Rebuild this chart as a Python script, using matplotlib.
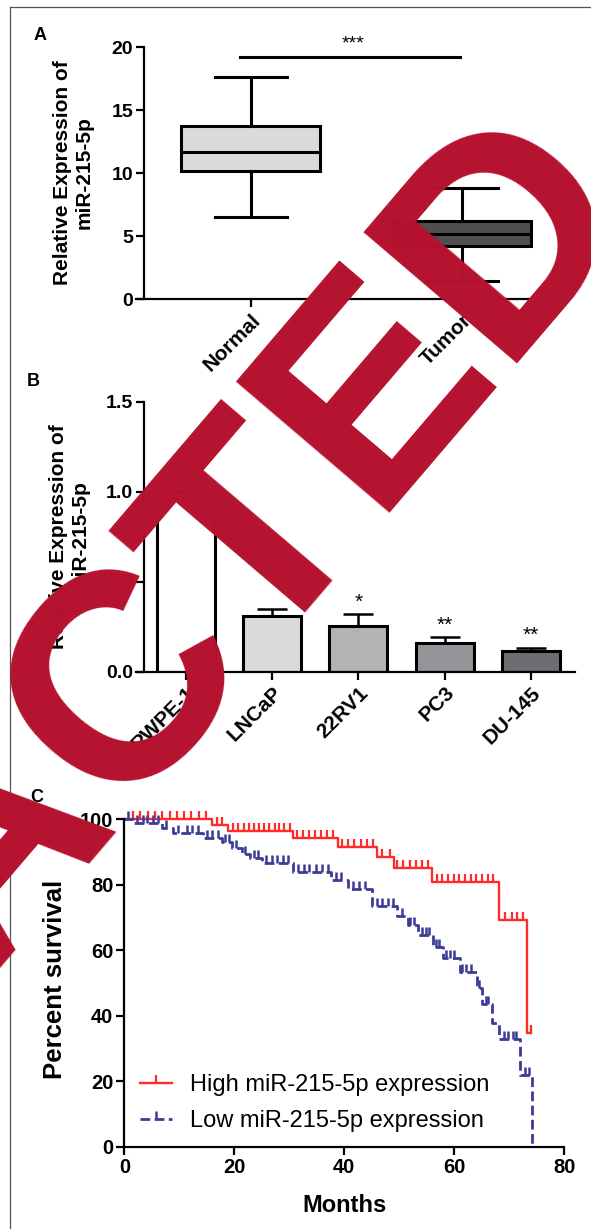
import matplotlib
matplotlib.use('Agg')
import numpy as np
import matplotlib.pyplot as plt
from matplotlib.path import Path
from matplotlib.lines import Line2D

plt.rcParams['font.family'] = ['Liberation Sans', 'DejaVu Sans']
plt.rcParams['font.weight'] = 'bold'

W, H = 591, 1229

# ---- panel A: box plot ----
groups_a = ['Normal', 'Tumor']
box_q1 = [10.2, 4.2]
box_med = [11.7, 5.15]
box_q3 = [13.75, 6.2]
whisk_lo = [6.5, 1.5]
whisk_hi = [17.6, 8.8]
box_colors = ['#d9dbdb', '#4f4f4f']

# ---- panel B: bars ----
cells = ['RWPE-1', 'LNCaP', '22RV1', 'PC3', 'DU-145']
rel_expr = [1.0, 0.31, 0.255, 0.163, 0.117]
expr_err = [0.0, 0.04, 0.065, 0.03, 0.018]
stars_b = ['', '', '*', '**', '**']
bar_colors = ['white', '#d9dbdb', '#b1b3b4', '#939598', '#6d6e71']

# ---- panel C: Kaplan-Meier ----
high_t = [0, 15.9, 18.9, 30.7, 38.9, 46.0, 49.0, 56.0, 68.2, 73.2, 74.0]
high_s = [100, 98.3, 96.4, 94.2, 91.5, 88.6, 85.2, 80.7, 69.3, 34.6, 34.6]
high_cens = [1.6, 2.9, 4.3, 5.6, 6.9, 8.3, 9.6, 10.9, 12.2, 13.6, 14.9,
             16.8, 17.7,
             19.8, 20.7, 21.7, 22.6, 23.5, 24.5, 25.4, 26.3, 27.3, 28.2, 29.1, 30.1,
             31.3, 32.4, 33.6, 34.7, 35.8, 36.9, 38.0,
             39.5, 40.7, 41.8, 43.0, 44.1, 45.3,
             46.8, 48.3,
             49.6, 50.7, 51.9, 53.0, 54.2, 55.3,
             56.8, 57.8, 58.9, 59.9, 60.9, 61.9, 63.0, 64.0, 65.0, 66.1, 67.1,
             69.3, 70.4, 71.4, 72.4, 74.0]

low_t = [0, 1.6, 6.8, 8.9, 14.3, 17.7, 19.5, 21.3, 22.8, 25.0, 30.6, 37.6, 40.7,
         45.0, 49.6, 51.6, 53.4, 56.2, 58.0, 61.0, 64.1, 65.0, 66.8, 68.2, 72.0, 74.2]
low_s = [100, 98.8, 97.3, 95.8, 94.2, 93.0, 91.2, 89.4, 88.1, 86.6, 84.0, 81.5, 78.7,
         73.5, 70.5, 67.8, 64.6, 61.0, 57.5, 53.5, 48.5, 43.5, 37.8, 33.0, 22.0, 0]
low_cens = [0.7, 2.3, 3.3, 4.2, 5.2, 6.1, 7.6, 9.8, 11.3, 12.3, 13.3,
            15.0, 16.0, 17.0, 18.3, 19.0, 20.3, 22.0, 23.5, 24.3,
            25.8, 26.8, 27.8, 28.8, 29.8, 31.6, 32.6, 33.6, 34.8, 35.9, 37.0,
            38.4, 39.3, 41.6, 42.6, 43.8, 46.0, 46.9, 47.9, 48.9, 50.5, 52.0, 52.7,
            54.2, 54.8, 55.4, 56.6, 57.3, 58.5, 59.2, 60.0, 61.4, 62.2, 63.0,
            64.5, 65.7, 66.2, 69.0, 69.8, 70.6, 71.3, 72.8, 73.5]


def px_axes(fig, x0, ytop, x1, ybot):
    return fig.add_axes([x0 / W, 1 - ybot / H, (x1 - x0) / W, (ybot - ytop) / H])


def step_value(ts, ss, t):
    i = np.searchsorted(ts, t, side='right') - 1
    return ss[i]


def style(ax):
    for s in ['top', 'right']:
        ax.spines[s].set_visible(False)
    for s in ['left', 'bottom']:
        ax.spines[s].set_linewidth(1.6)
    ax.tick_params(width=1.6, length=6, labelsize=14, pad=2)


fig = plt.figure(figsize=(W / 100, H / 100), dpi=100)

# frame lines
fig.add_artist(Line2D([10 / W, 1], [1 - 7 / H] * 2, color='#555555', lw=0.9))
fig.add_artist(Line2D([10 / W] * 2, [0, 1 - 7 / H], color='#555555', lw=0.9))

# ---------------- A ----------------
axA = px_axes(fig, 135.7, 47, 567.3, 299.5)
stats = [dict(med=m, q1=a, q3=b, whislo=lo, whishi=hi, fliers=[])
         for m, a, b, lo, hi in zip(box_med, box_q1, box_q3, whisk_lo, whisk_hi)]
bp = axA.bxp(stats, positions=[0, 1], widths=0.66, capwidths=0.34, patch_artist=True,
             showfliers=False,
             boxprops=dict(lw=2.2, edgecolor='black'),
             medianprops=dict(color='black', lw=2.2),
             whiskerprops=dict(lw=2.2), capprops=dict(lw=2.2))
for patch, c in zip(bp['boxes'], box_colors):
    patch.set_facecolor(c)
axA.set_xlim(-0.545, 1.5005)
axA.set_ylim(0, 20)
style(axA)
axA.spines['left'].set_position(('data', -0.504))
axA.set_yticks([0, 5, 10, 15, 20])
axA.set_xticks([0, 1])
axA.set_xticklabels(groups_a, rotation=45, ha='right', rotation_mode='anchor', fontsize=15)
axA.plot([-0.05, 0.99], [19.23, 19.23], color='black', lw=2.2, clip_on=False)
axA.text(0.485, 19.6, '***', ha='center', va='bottom', fontsize=14, fontweight='normal')

# ---------------- B ----------------
axB = px_axes(fig, 135.7, 402, 574.8, 672)
xb = np.arange(len(cells))
axB.errorbar(xb, rel_expr, yerr=[np.zeros(len(cells)), expr_err], fmt='none',
             ecolor='black', elinewidth=1.8, capsize=10.5, capthick=1.8, zorder=1)
axB.bar(xb, rel_expr, width=0.67, color=bar_colors, edgecolor='black', linewidth=2.2, zorder=2)
for xi, v, e, s in zip(xb, rel_expr, expr_err, stars_b):
    if s:
        axB.text(xi, v + e + 0.015, s, ha='center', va='bottom', fontsize=15, fontweight='normal')
axB.set_xlim(-0.578, 4.505)
axB.set_ylim(0, 1.5)
style(axB)
axB.spines['left'].set_position(('data', -0.477))
axB.set_yticks([0, 0.5, 1.0, 1.5])
axB.set_yticklabels(['0.0', '0.5', '1.0', '1.5'])
axB.set_xticks(xb)
axB.set_xticklabels(cells, rotation=45, ha='right', rotation_mode='anchor', fontsize=15)

for ycen, xcen in [(173, 73), (537, 69)]:
    fig.text(xcen / W, 1 - ycen / H, 'Relative Expression of\nmiR-215-5p', rotation=90,
             ha='center', va='center', fontsize=15, fontweight='bold', linespacing=1.2)

# ---------------- C ----------------
axC = px_axes(fig, 124.4, 819.3, 564.3, 1146.7)
tick_mark = Path([[0, 0], [0, 1]], [Path.MOVETO, Path.LINETO])
red = '#ff2a2a'
blue = '#3c3c96'
axC.plot(high_t, high_s, drawstyle='steps-post', color=red, lw=1.7, clip_on=False)
axC.plot(high_cens, [step_value(high_t, high_s, t) for t in high_cens], ls='none',
         marker=tick_mark, ms=11, mew=1.6, color=red, clip_on=False)
axC.plot(low_t, low_s, drawstyle='steps-post', color=blue, lw=2.0, ls=(0, (3.5, 1.6)),
         clip_on=False)
axC.plot(low_cens, [step_value(low_t, low_s, t) for t in low_cens], ls='none',
         marker=tick_mark, ms=11, mew=1.8, color=blue, clip_on=False)
axC.set_xlim(0, 80)
axC.set_ylim(0, 100)
style(axC)
axC.tick_params(labelsize=14.5)
axC.set_xticks([0, 20, 40, 60, 80])
axC.set_yticks([0, 20, 40, 60, 80, 100])

h_high = Line2D([], [], color=red, lw=1.7, marker=tick_mark, ms=11, mew=1.6)
h_low = Line2D([], [], color=blue, lw=2.0, ls=(0, (3.5, 1.6)), marker=tick_mark, ms=11, mew=1.8)
fig.legend([h_high, h_low], ['High miR-215-5p expression', 'Low miR-215-5p expression'],
           loc='upper left', bbox_to_anchor=(140 / W, 1 - 1074 / H), frameon=False,
           borderpad=0, borderaxespad=0, handlelength=1.35, handletextpad=0.75,
           labelspacing=0.6, numpoints=1, prop=dict(size=17, weight='normal'))

fig.text(55 / W, 1 - 979 / H, 'Percent survival', rotation=90, ha='center', va='center',
         fontsize=18.5, fontweight='bold')
fig.text(344.5 / W, 1 - 1206 / H, 'Months', ha='center', va='center', fontsize=17,
         fontweight='bold')

# panel letters
fig.text(40 / W, 1 - 35 / H, 'A', ha='center', va='center', fontsize=13, fontweight='bold')
fig.text(33 / W, 1 - 382 / H, 'B', ha='center', va='center', fontsize=13, fontweight='bold')
fig.text(37 / W, 1 - 797 / H, 'C', ha='center', va='center', fontsize=13, fontweight='bold')

# watermark
fig.text(47.2 / W, 1 - 891.8 / H, 'RETRACTED', rotation=49.5, rotation_mode='anchor',
         ha='center', va='baseline', fontsize=212, fontweight='bold', color='#b5122e',
         zorder=100)

fig.savefig('out.png', dpi=100)
